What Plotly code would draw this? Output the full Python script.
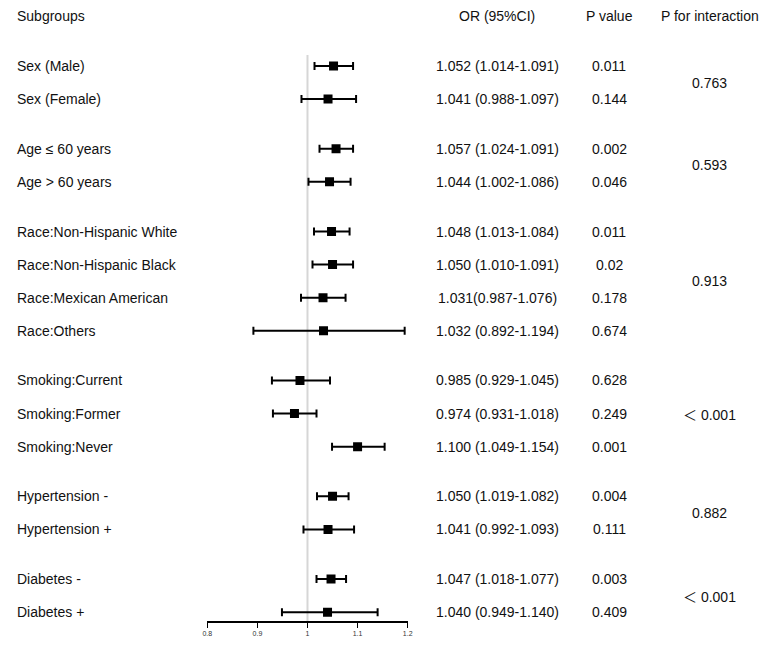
import plotly.graph_objects as go

subgroups = ["Sex (Male)", "Sex (Female)",
             "Age ≤ 60 years", "Age > 60 years",
             "Race:Non-Hispanic White", "Race:Non-Hispanic Black", "Race:Mexican American", "Race:Others",
             "Smoking:Current", "Smoking:Former", "Smoking:Never",
             "Hypertension -", "Hypertension +",
             "Diabetes -", "Diabetes +"]
or_vals = [1.052, 1.041, 1.057, 1.044, 1.048, 1.050, 1.031, 1.032, 0.985, 0.974, 1.100, 1.050, 1.041, 1.047, 1.040]
ci_low = [1.014, 0.988, 1.024, 1.002, 1.013, 1.010, 0.987, 0.892, 0.929, 0.931, 1.049, 1.019, 0.992, 1.018, 0.949]
ci_high = [1.091, 1.097, 1.091, 1.086, 1.084, 1.091, 1.076, 1.194, 1.045, 1.018, 1.154, 1.082, 1.093, 1.077, 1.140]
or_text = ["1.052 (1.014-1.091)", "1.041 (0.988-1.097)", "1.057 (1.024-1.091)", "1.044 (1.002-1.086)",
           "1.048 (1.013-1.084)", "1.050 (1.010-1.091)", "1.031(0.987-1.076)", "1.032 (0.892-1.194)",
           "0.985 (0.929-1.045)", "0.974 (0.931-1.018)", "1.100 (1.049-1.154)", "1.050 (1.019-1.082)",
           "1.041 (0.992-1.093)", "1.047 (1.018-1.077)", "1.040 (0.949-1.140)"]
p_values = ["0.011", "0.144", "0.002", "0.046", "0.011", "0.02", "0.178", "0.674", "0.628", "0.249",
            "0.001", "0.004", "0.111", "0.003", "0.409"]
group_sizes = [2, 2, 4, 3, 2, 2]
p_interaction = ["0.763", "0.593", "0.913", "＜ 0.001", "0.882", "＜ 0.001"]
x_ticks = [0.8, 0.9, 1.0, 1.1, 1.2]
x_ticklabels = ["0.8", "0.9", "1", "1.1", "1.2"]

# row positions: consecutive rows, half-row gap between groups
rows = []
group_centers = []
pos = 0.0
for n in group_sizes:
    start = pos
    for k in range(n):
        rows.append(pos)
        pos += 1
    group_centers.append((start + pos - 1) / 2)
    pos += 0.5

W, H = 765, 651
ROW0, STEP = 66, 33.1


def fx(px):
    return px / W


def ry(py):
    return (py - ROW0) / STEP


FONT = "Liberation Sans, Arial, sans-serif"
CJK = "Noto Sans CJK SC"
fs = 14


def fmt_p(t):
    if t.startswith("＜"):
        return "<span style='font-family:\"%s\"'>＜</span>%s" % (CJK, t[1:])
    return t


fig = go.Figure()
fig.add_trace(go.Scatter(
    x=or_vals, y=rows, mode="markers",
    marker=dict(symbol="square", size=9, color="black"),
    error_x=dict(type="data", symmetric=False,
                 array=[h - o for h, o in zip(ci_high, or_vals)],
                 arrayminus=[o - l for o, l in zip(or_vals, ci_low)],
                 color="black", thickness=2, width=4),
    showlegend=False, hoverinfo="skip"))

fig.add_shape(type="line", xref="x", yref="y", x0=1, x1=1, y0=ry(55), y1=ry(621),
              line=dict(color="#d6d6d6", width=2), layer="below")

ann = []
hdr_y = ry(16)
LX = 10
ann.append(dict(x=fx(LX), y=hdr_y, text="Subgroups", xanchor="left"))
ann.append(dict(x=fx(499), y=hdr_y, text="OR (95%CI)", xanchor="center"))
ann.append(dict(x=fx(612), y=hdr_y, text="P value", xanchor="center"))
ann.append(dict(x=fx(714), y=hdr_y, text="P for interaction", xanchor="center"))
for lab, ot, pv, r in zip(subgroups, or_text, p_values, rows):
    ann.append(dict(x=fx(LX), y=r, text=lab, xanchor="left"))
    ann.append(dict(x=fx(499), y=r, text=ot, xanchor="center"))
    ann.append(dict(x=fx(612), y=r, text=pv, xanchor="center"))
for pi, c in zip(p_interaction, group_centers):
    ann.append(dict(x=fx(714), y=c, text=fmt_p(pi), xanchor="center"))
for a in ann:
    a.update(xref="paper", yref="y", yanchor="middle", showarrow=False,
             font=dict(family=FONT, size=fs, color="#111111"))
fig.update_layout(annotations=ann)

fig.update_layout(
    width=W, height=H,
    margin=dict(l=0, r=0, t=0, b=0),
    paper_bgcolor="white", plot_bgcolor="white",
    hovermode=False,
    xaxis=dict(domain=[fx(205), fx(408)], range=[0.8, 1.2], anchor="free", position=1 - 621 / H,
               tickvals=x_ticks, ticktext=x_ticklabels, ticks="outside", ticklen=5, tickwidth=1,
               tickcolor="black", showline=True, linecolor="black", linewidth=1.5,
               showgrid=False, zeroline=False,
               tickfont=dict(family=FONT, size=7, color="#333333")),
    yaxis=dict(domain=[0, 1], range=[ry(H), ry(0)], visible=False, showgrid=False, zeroline=False),
)

fig.write_html("out.html", config={"displayModeBar": False, "staticPlot": True},
               post_script="document.body.style.margin='0px';document.body.style.overflow='hidden';")
